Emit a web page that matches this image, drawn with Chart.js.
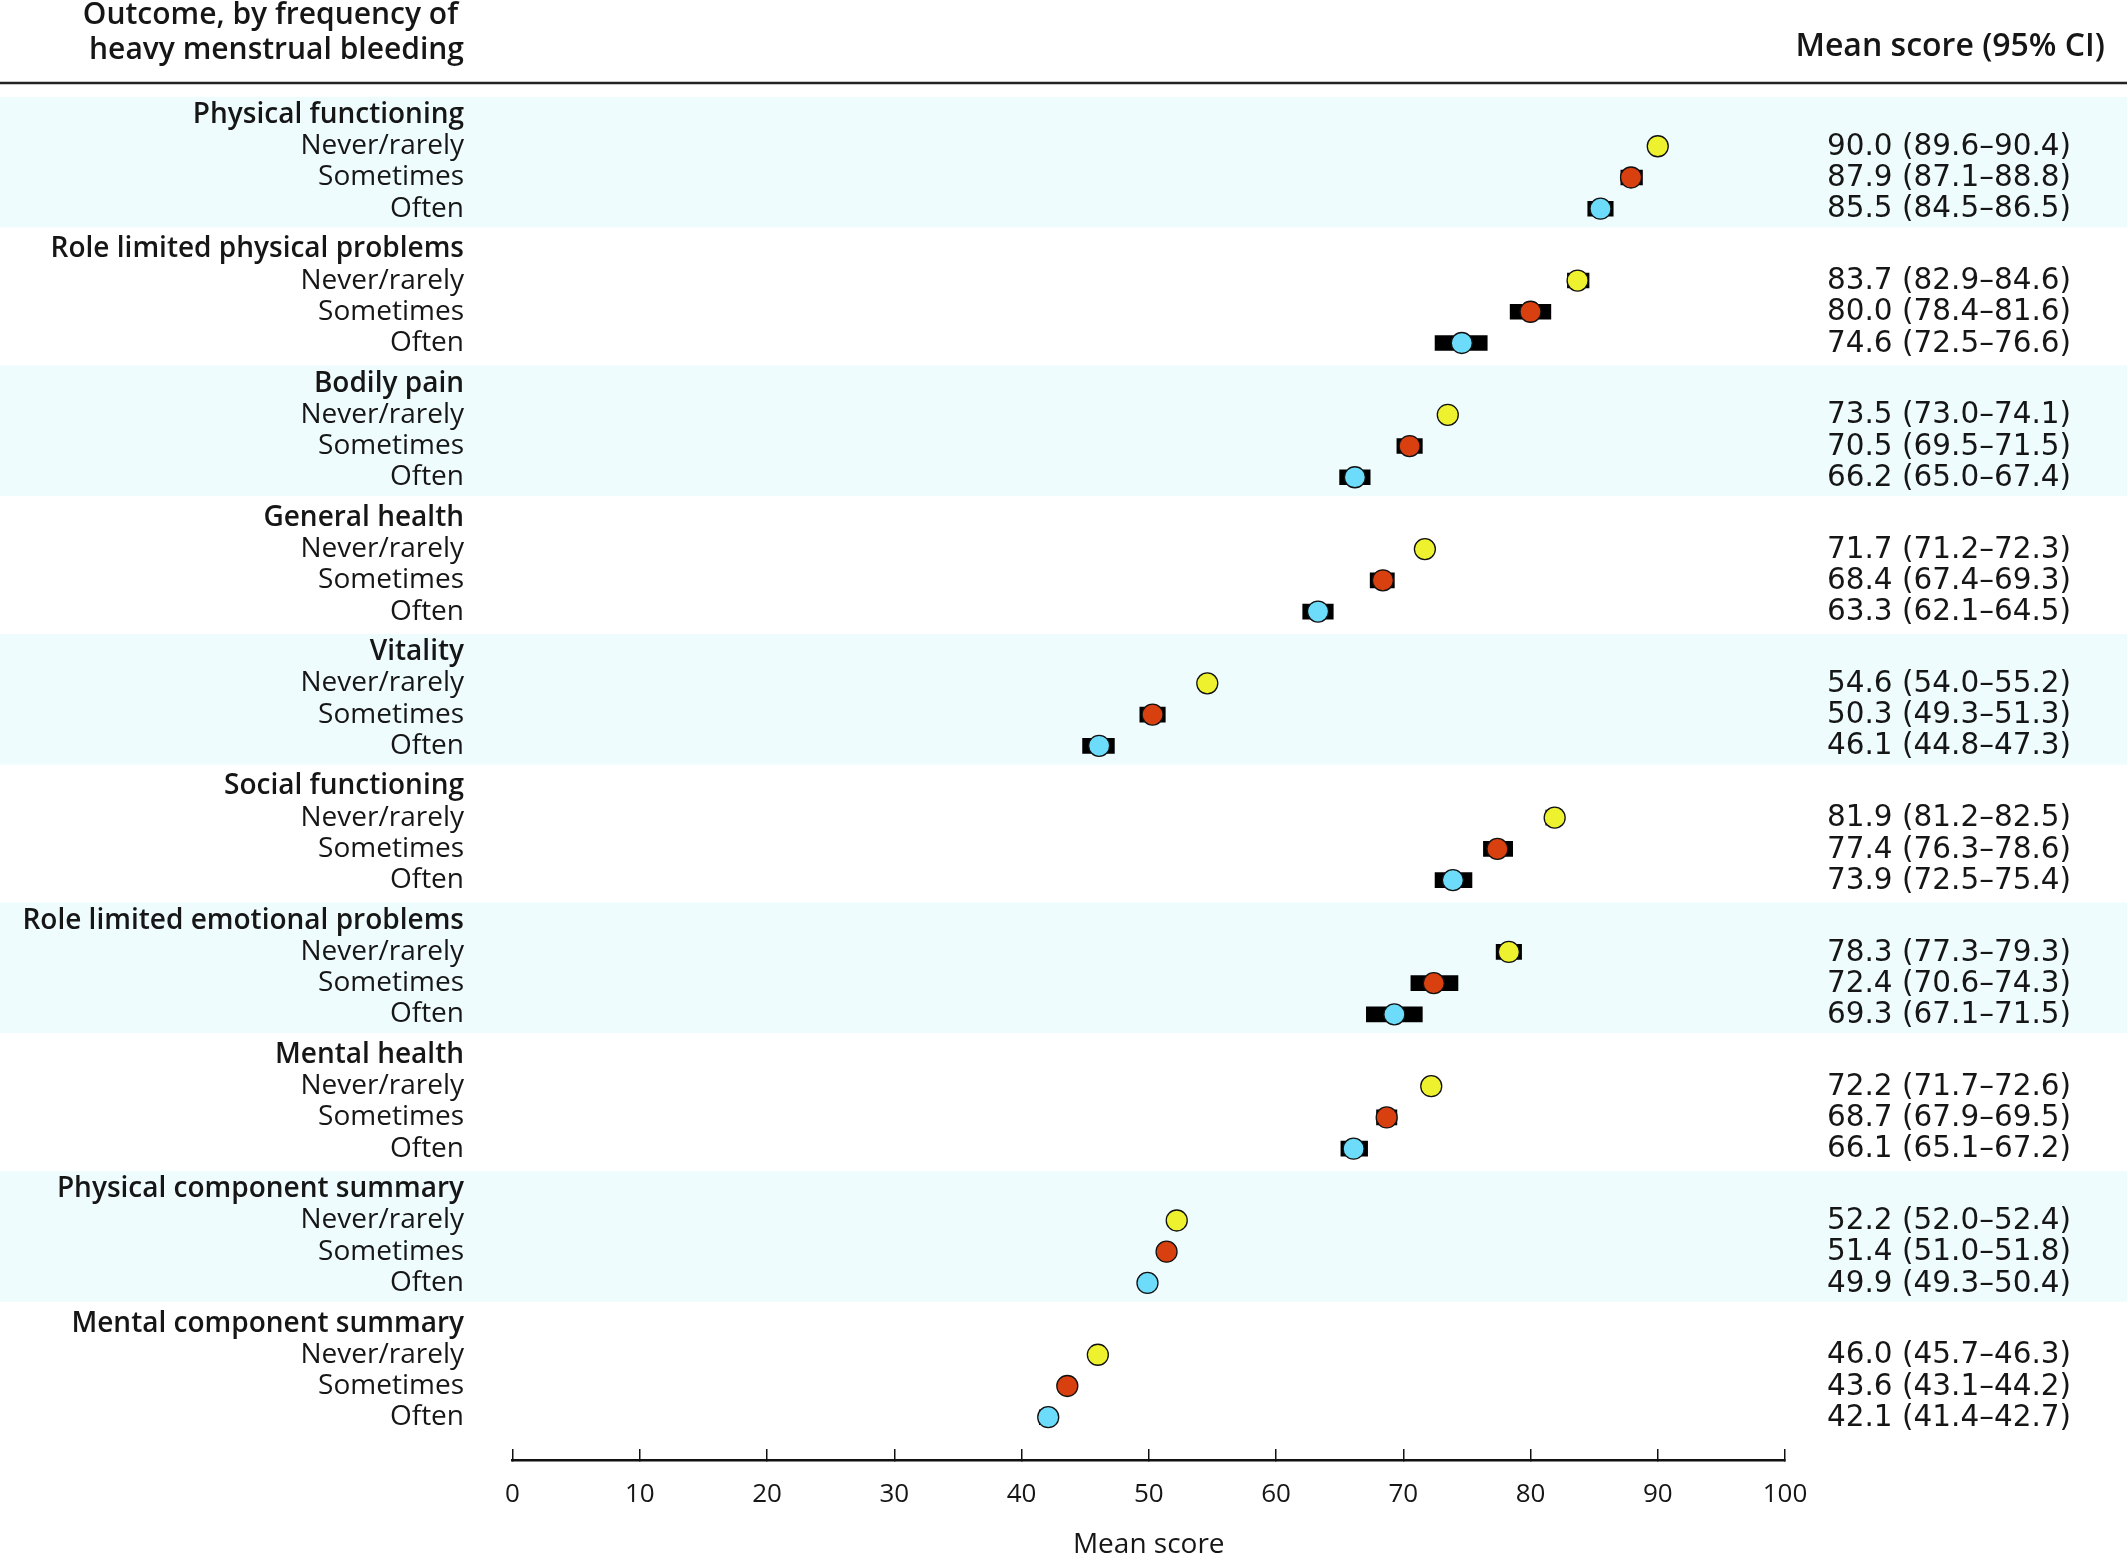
<!DOCTYPE html>
<html>
<head>
<meta charset="utf-8">
<script src="https://cdn.jsdelivr.net/npm/chart.js@4.4.1/dist/chart.umd.min.js"></script>
<style>
  html, body { margin: 0; padding: 0; background: #fff; }
  canvas { display: block; }
</style>
</head>
<body>
<canvas id="forest" width="2127" height="1562"></canvas>
<script>
'use strict';

// Outcomes (SF-36 domains), top to bottom
const outcomes = [
    'Physical functioning',
    'Role limited physical problems',
    'Bodily pain',
    'General health',
    'Vitality',
    'Social functioning',
    'Role limited emotional problems',
    'Mental health',
    'Physical component summary',
    'Mental component summary'
];
const frequencies = ['Never/rarely', 'Sometimes', 'Often'];

const neverMean = [90.0, 83.7, 73.5, 71.7, 54.6, 81.9, 78.3, 72.2, 52.2, 46.0];
const neverLow  = [89.6, 82.9, 73.0, 71.2, 54.0, 81.2, 77.3, 71.7, 52.0, 45.7];
const neverHigh = [90.4, 84.6, 74.1, 72.3, 55.2, 82.5, 79.3, 72.6, 52.4, 46.3];

const sometimesMean = [87.9, 80.0, 70.5, 68.4, 50.3, 77.4, 72.4, 68.7, 51.4, 43.6];
const sometimesLow  = [87.1, 78.4, 69.5, 67.4, 49.3, 76.3, 70.6, 67.9, 51.0, 43.1];
const sometimesHigh = [88.8, 81.6, 71.5, 69.3, 51.3, 78.6, 74.3, 69.5, 51.8, 44.2];

const oftenMean = [85.5, 74.6, 66.2, 63.3, 46.1, 73.9, 69.3, 66.1, 49.9, 42.1];
const oftenLow  = [84.5, 72.5, 65.0, 62.1, 44.8, 72.5, 67.1, 65.1, 49.3, 41.4];
const oftenHigh = [86.5, 76.6, 67.4, 64.5, 47.3, 75.4, 71.5, 67.2, 50.4, 42.7];

const xTicks = [0, 10, 20, 30, 40, 50, 60, 70, 80, 90, 100];

const series = [
    { label: frequencies[0], mean: neverMean, low: neverLow, high: neverHigh, color: '#eef22e' },
    { label: frequencies[1], mean: sometimesMean, low: sometimesLow, high: sometimesHigh, color: '#d94010' },
    { label: frequencies[2], mean: oftenMean, low: oftenLow, high: oftenHigh, color: '#6ddcfb' }
];

// each outcome takes a title row + 3 rows, plus a bit of air before the next one
const GROUP_STEP = 4.3;
const rowPos = (g, r) => g * GROUP_STEP + r;

const yTickValues = [];
const yTickLabels = [];
const yTickIsTitle = [];
outcomes.forEach((name, g) => {
    yTickValues.push(rowPos(g, 0));
    yTickLabels.push(name);
    yTickIsTitle.push(true);
    frequencies.forEach((f, i) => {
        yTickValues.push(rowPos(g, i + 1));
        yTickLabels.push(f);
        yTickIsTitle.push(false);
    });
});

const TEXT = '#161616';
const LABEL_FONT = '"Open Sans", sans-serif';
const CI_FONT = '"DejaVu Sans", sans-serif';

const fmt = v => v.toFixed(1);

const markerSets = series.map((s, i) => ({
    type: 'line',
    label: s.label,
    data: s.mean.map((m, g) => ({ x: m, y: rowPos(g, i + 1) })),
    showLine: false,
    pointStyle: 'circle',
    pointRadius: 10.5,
    pointHoverRadius: 10.5,
    pointBackgroundColor: s.color,
    pointBorderColor: '#111',
    pointBorderWidth: 1.3,
    order: 0
}));

const ciSets = series.map((s, i) => ({
    type: 'bar',
    label: s.label + ' CI',
    data: s.low.map((lo, g) => ({ x: [lo, s.high[g]], y: rowPos(g, i + 1) })),
    backgroundColor: '#000',
    borderWidth: 0,
    barThickness: 15,
    grouped: false,
    order: 1
}));

// light bands behind every other outcome, header rule and texts
const decorations = {
    id: 'decorations',
    beforeDraw(chart) {
        const { ctx, width } = chart;
        const y = chart.scales.y;
        ctx.save();
        ctx.fillStyle = '#effcfd';
        outcomes.forEach((o, g) => {
            if (g % 2) return;
            const top = y.getPixelForValue(rowPos(g, 0) - 0.58);
            const bottom = y.getPixelForValue(rowPos(g, 3) + 0.6);
            ctx.fillRect(0, top, width, bottom - top);
        });
        ctx.restore();
    },
    afterDraw(chart) {
        const { ctx, width } = chart;
        const y = chart.scales.y;
        ctx.save();
        ctx.fillStyle = TEXT;
        ctx.textBaseline = 'middle';

        ctx.font = '600 30px ' + LABEL_FONT;
        ctx.textAlign = 'right';
        ctx.fillText('Outcome, by frequency of', 458, 15);
        ctx.fillText('heavy menstrual bleeding', 464, 50);
        ctx.font = '600 32px ' + LABEL_FONT;
        ctx.fillText('Mean score (95% CI)', 2105, 47);

        ctx.strokeStyle = '#222';
        ctx.lineWidth = 2.5;
        ctx.beginPath();
        ctx.moveTo(0, 83);
        ctx.lineTo(width, 83);
        ctx.stroke();

        ctx.font = '29.5px ' + CI_FONT;
        ctx.textAlign = 'center';
        series.forEach((s, i) => {
            s.mean.forEach((m, g) => {
                const txt = fmt(m) + ' (' + fmt(s.low[g]) + '\u2013' + fmt(s.high[g]) + ')';
                ctx.fillText(txt, 1949, y.getPixelForValue(rowPos(g, i + 1)) + 1);
            });
        });
        ctx.restore();
    }
};

new Chart(document.getElementById('forest'), {
    type: 'bar',
    data: { datasets: [...markerSets, ...ciSets] },
    options: {
        responsive: false,
        animation: false,
        devicePixelRatio: 1,
        indexAxis: 'y',
        layout: { padding: { top: 83.8, right: 342, bottom: 0, left: 0 } },
        plugins: {
            legend: { display: false },
            tooltip: { enabled: false }
        },
        scales: {
            x: {
                type: 'linear',
                position: 'bottom',
                offset: false,
                min: 0,
                max: 100,
                afterBuildTicks: s => { s.ticks = xTicks.map(v => ({ value: v })); },
                afterFit: s => { s.height = 102; },
                ticks: {
                    color: TEXT,
                    padding: 30,
                    font: { family: LABEL_FONT, size: 26 }
                },
                grid: {
                    drawOnChartArea: false,
                    drawTicks: true,
                    tickLength: -11,
                    color: '#111',
                    lineWidth: 1.5
                },
                border: { display: true, color: '#111', width: 2.5 },
                title: {
                    display: true,
                    text: 'Mean score',
                    color: TEXT,
                    padding: 0,
                    font: { family: LABEL_FONT, size: 28 }
                }
            },
            y: {
                type: 'linear',
                reverse: true,
                offset: false,
                min: -1,
                max: 43.07,
                afterBuildTicks: s => { s.ticks = yTickValues.map(v => ({ value: v })); },
                afterFit: s => { s.width = 512.5; },
                ticks: {
                    autoSkip: false,
                    padding: 48.5,
                    color: TEXT,
                    callback: (v, i) => yTickLabels[i],
                    font: c => ({
                        family: LABEL_FONT,
                        size: 28,
                        weight: yTickIsTitle[c.index] ? '600' : '400',
                        lineHeight: 1
                    })
                },
                grid: { display: false, drawTicks: false, offset: false },
                border: { display: false }
            }
        }
    },
    plugins: [decorations]
});
</script>
</body>
</html>
